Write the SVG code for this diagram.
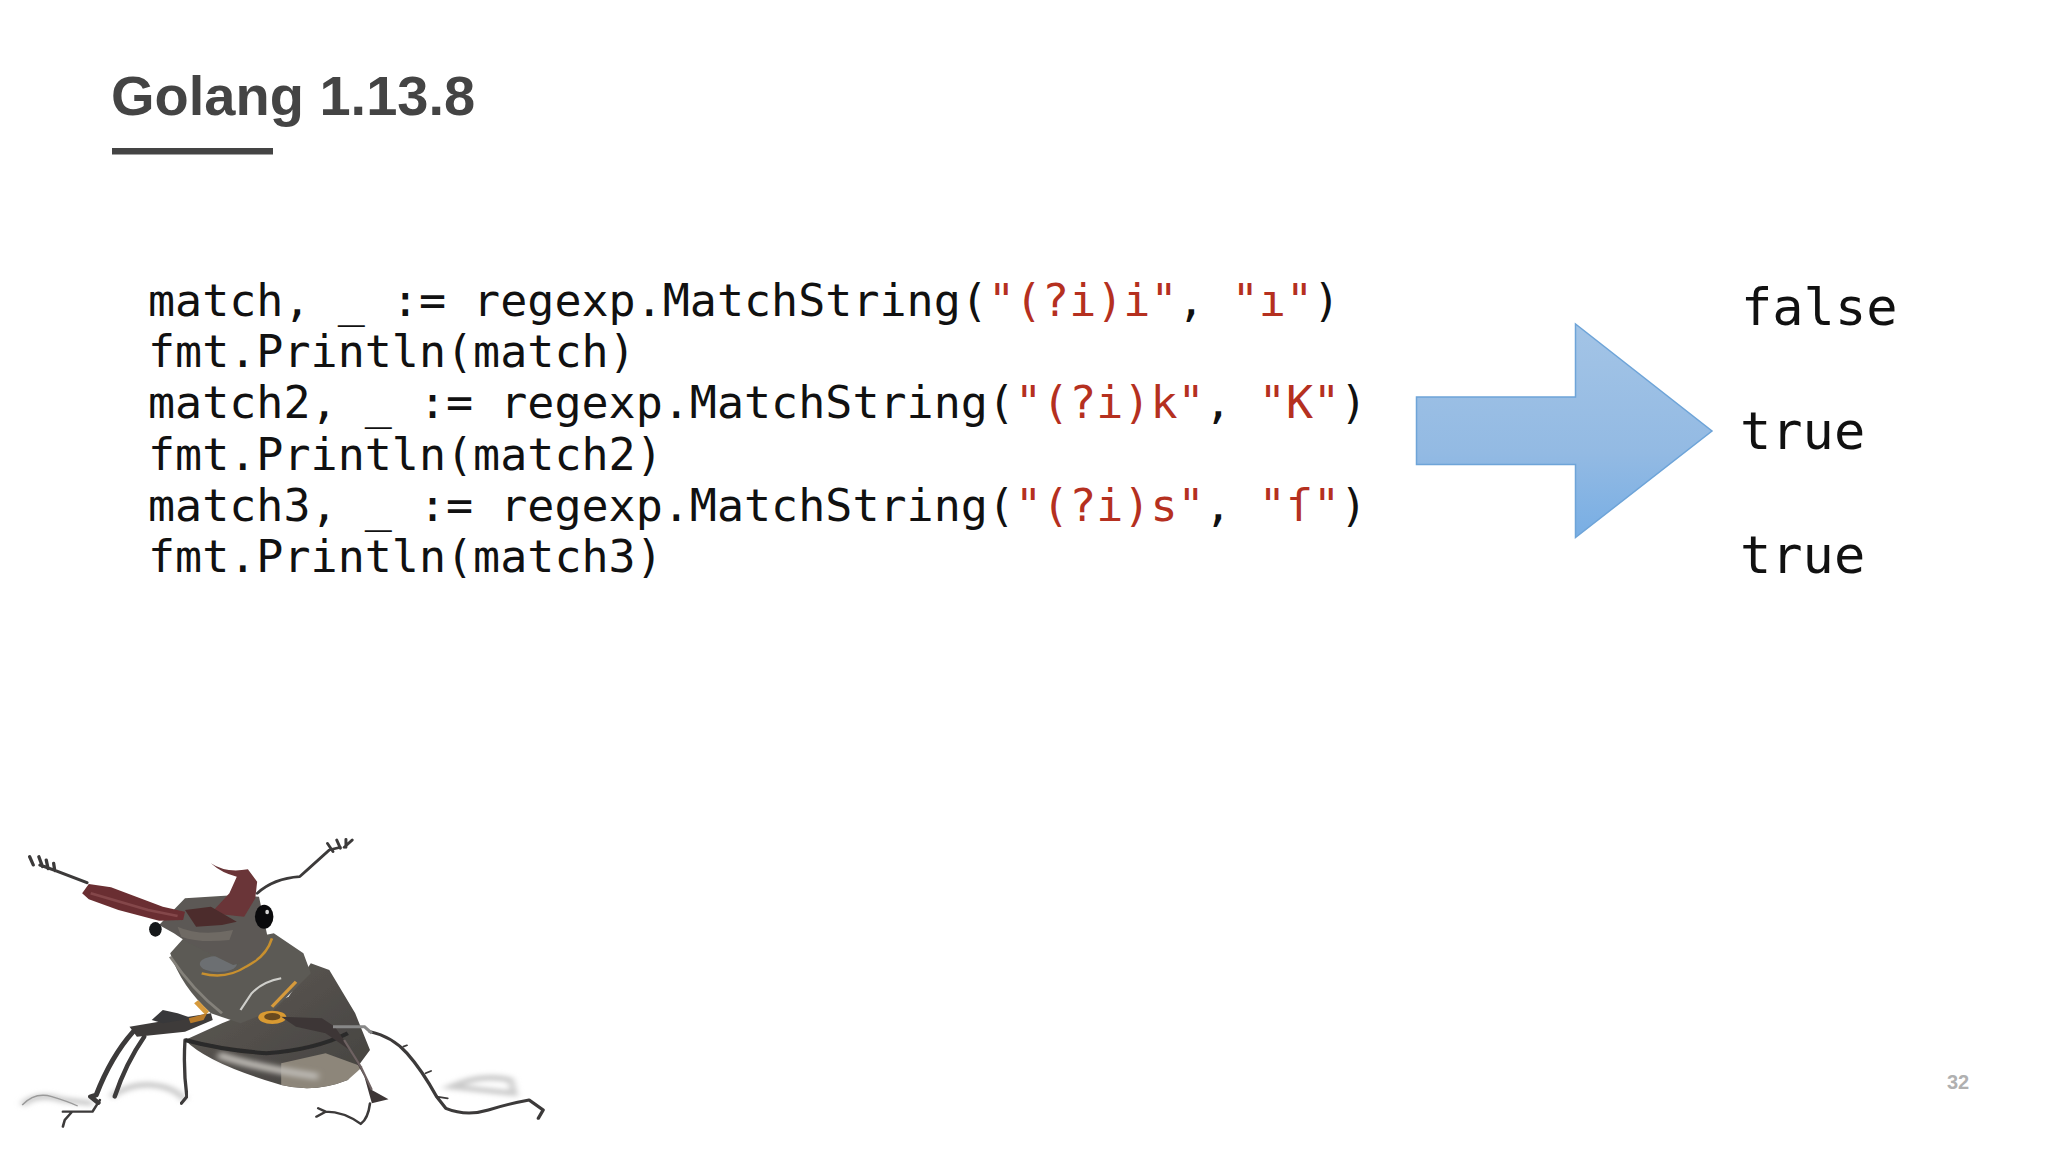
<svg xmlns="http://www.w3.org/2000/svg" width="2048" height="1152" viewBox="0 0 2048 1152">
<style>
.code{font-family:"DejaVu Sans Mono","Liberation Mono",monospace;font-size:45px;fill:#111;white-space:pre}
.str{fill:#b5301f}
.out{font-family:"DejaVu Sans Mono","Liberation Mono",monospace;font-size:52px;fill:#111}
.leg{fill:none;stroke:#3c3a3a;stroke-linecap:round;stroke-linejoin:round}
</style>
<defs>
<linearGradient id="ag" x1="0" y1="0" x2="0" y2="1"><stop offset="0" stop-color="#a3c4e6"/><stop offset=".6" stop-color="#93bae3"/><stop offset="1" stop-color="#78aee4"/></linearGradient>
<linearGradient id="bg" x1="0" y1="0" x2="1" y2="1"><stop offset="0" stop-color="#5e5b56"/><stop offset="1" stop-color="#45423f"/></linearGradient>
<filter id="sb" x="-20%" y="-20%" width="140%" height="140%"><feGaussianBlur stdDeviation="1.2"/></filter>
<filter id="bb" x="-20%" y="-50%" width="140%" height="200%"><feGaussianBlur stdDeviation="8"/></filter>
</defs>
<rect width="2048" height="1152" fill="#fff"/>
<g id="title">
<text x="111" y="115" font-family="'Liberation Sans',Arial,sans-serif" font-weight="700" font-size="56" fill="#444">Golang 1.13.8</text>
<rect x="112" y="148" width="161" height="6.500" fill="#444"/>
</g>
<g id="code">
<text class="code" x="148" y="316">match, _ := regexp.MatchString(<tspan class="str">"(?i)i"</tspan>, <tspan class="str">"ı"</tspan>)</text>
<text class="code" x="148" y="367">fmt.Println(match)</text>
<text class="code" x="148" y="418">match2, _ := regexp.MatchString(<tspan class="str">"(?i)k"</tspan>, <tspan class="str">"K"</tspan>)</text>
<text class="code" x="148" y="470">fmt.Println(match2)</text>
<text class="code" x="148" y="521">match3, _ := regexp.MatchString(<tspan class="str">"(?i)s"</tspan>, <tspan class="str">"ſ"</tspan>)</text>
<text class="code" x="148" y="572">fmt.Println(match3)</text>
</g>
<g id="arrow">
<path d="M1416.500 397H1575.500V324L1712 431L1575.500 537.500V464.500H1416.500Z" fill="url(#ag)" stroke="#6ea4d8" stroke-width="1.500"/>
</g>
<g id="output">
<text class="out" x="1741" y="325">false</text>
<text class="out" x="1740" y="449">true</text>
<text class="out" x="1740" y="573">true</text>
</g>
<g id="beetle" transform="translate(0,810) scale(0.37,0.3333)">
<path d="M60 885Q100 845 170 870L250 880M300 860Q350 820 410 825T500 870M1220 830Q1300 790 1380 810L1390 850Z" fill="none" stroke="#c9c9c9" stroke-width="16" filter="url(#bb)"/>
<path d="M60 885Q95 845 140 860T210 888" fill="none" stroke="#9a9a9a" stroke-width="4" filter="url(#sb)"/>
<!-- rear legs -->
<path class="leg" d="M500 690Q495 780 505 860L490 880" stroke-width="9" filter="url(#sb)" stroke="#555"/>
<path class="leg" d="M390 680Q340 760 310 860" stroke-width="12" filter="url(#sb)"/>
<path class="leg" d="M1000 665Q1060 680 1100 730T1180 860L1205 895Q1260 920 1320 900T1430 870L1468 900L1455 925" stroke-width="9"/>
<path class="leg" d="M1180 860L1210 865M1090 710L1100 706M1150 790L1165 783" stroke-width="5"/>
<!-- abdomen -->
<path d="M500 690Q560 760 760 825Q850 850 940 810L1000 720L960 610L890 480L840 460L780 560L600 640Z" fill="url(#bg)" filter="url(#sb)"/>
<path d="M760 825Q850 850 940 810L980 770L880 730L760 760Z" fill="#8d867a" filter="url(#sb)"/>
<path d="M590 735Q700 775 860 800" fill="none" stroke="#b9b6b0" stroke-width="22" filter="url(#bb)"/>
<path d="M500 690Q600 720 720 730Q850 720 940 670" fill="none" stroke="#2b2a29" stroke-width="12" filter="url(#sb)"/>
<!-- thorax -->
<path d="M460 430Q490 530 570 610L650 640L740 600L840 490L820 430L740 370L650 390L500 380Z" fill="#5c5a55" filter="url(#sb)"/>
<path d="M545 490Q610 510 665 470Q720 440 735 385" fill="none" stroke="#c8902f" stroke-width="7"/>
<path d="M735 590L800 515" stroke="#d69a3c" stroke-width="9" fill="none"/>
<path d="M530 575L560 610" stroke="#d69a3c" stroke-width="14" fill="none"/>
<ellipse cx="590" cy="462" rx="50" ry="24" fill="#6c6f72"/>
<path d="M650 600L680 550Q710 515 760 505" fill="none" stroke="#cfcfcb" stroke-width="6"/>
<path d="M460 440Q520 540 600 610" fill="none" stroke="#84817a" stroke-width="8" filter="url(#sb)"/>
<!-- head -->
<path d="M430 345L500 265L640 255L700 260L725 390L690 450L630 465L510 400L470 370Z" fill="#5b5954" filter="url(#sb)"/>
<path d="M480 350Q540 380 630 360L620 390Q540 400 490 380Z" fill="#6f6a64"/>
<ellipse cx="420" cy="358" rx="17" ry="22" fill="#15181a"/>
<ellipse cx="714" cy="320" rx="25" ry="36" fill="#0a0a0c"/>
<ellipse cx="722" cy="306" rx="5" ry="7" fill="#d6d6d6"/>
<!-- mandibles -->
<path d="M222 250L240 222L300 232L440 290L500 305L495 330L430 332L320 300L240 268Z" fill="#6a2f31" filter="url(#sb)"/>
<path d="M245 250L400 300L480 318" stroke="#84474a" stroke-width="8" fill="none"/>
<path d="M570 160Q610 190 670 178L695 215L690 265L660 320L570 310L620 250L640 200Q600 190 570 160Z" fill="#6a3537" filter="url(#sb)"/>
<path d="M500 300L570 290L640 335L600 345L530 350Z" fill="#4c2c2c"/>
<!-- antennae -->
<path class="leg" d="M235 218L150 182L108 165M80 140L90 165M105 140L115 170M125 150L130 176M145 160L148 182" stroke-width="9" stroke="#2b2a2a"/>
<path class="leg" d="M695 250Q740 205 810 200L830 180L890 120L920 112M885 100L900 125M910 90L920 115M935 88L935 112M952 90L930 112" stroke-width="8" stroke="#1f1f1f"/>
<!-- front legs -->
<path d="M350 650L510 620L570 610L575 630L500 665L370 680Z" fill="#3e3b3a"/>
<path d="M440 600L480 610L520 625L440 640L410 630Z" fill="#38383a"/>
<path d="M510 625L560 610L550 630L515 640Z" fill="#b97b2a"/>
<ellipse cx="736" cy="622" rx="38" ry="20" fill="#d99a32"/>
<ellipse cx="736" cy="620" rx="22" ry="11" fill="#6a4a1e"/>
<path class="leg" d="M360 665Q300 740 260 855L245 860L265 878" stroke-width="14" stroke="#2f2e2e"/>
<path class="leg" d="M270 870L250 905L195 905L175 930L170 950M195 905L170 905" stroke-width="7" stroke="#333"/>
<path d="M760 620L870 625L905 650L960 740L1005 840L1050 868L1005 880L985 800L945 720L880 670L800 650Z" fill="#3d3636"/>
<path d="M930 690L975 770L1005 840" fill="none" stroke="#6e6262" stroke-width="6"/>
<path d="M900 650L985 650L1005 670" fill="none" stroke="#888" stroke-width="9"/>
<path class="leg" d="M1000 880Q995 925 975 942Q930 905 880 905L855 920M880 905L860 895" stroke-width="7" stroke="#333"/>
</g>
<g id="page">
<text x="1947" y="1089" font-family="'Liberation Sans',Arial,sans-serif" font-weight="700" font-size="20" fill="#b0b0b0">32</text>
</g>
</svg>
